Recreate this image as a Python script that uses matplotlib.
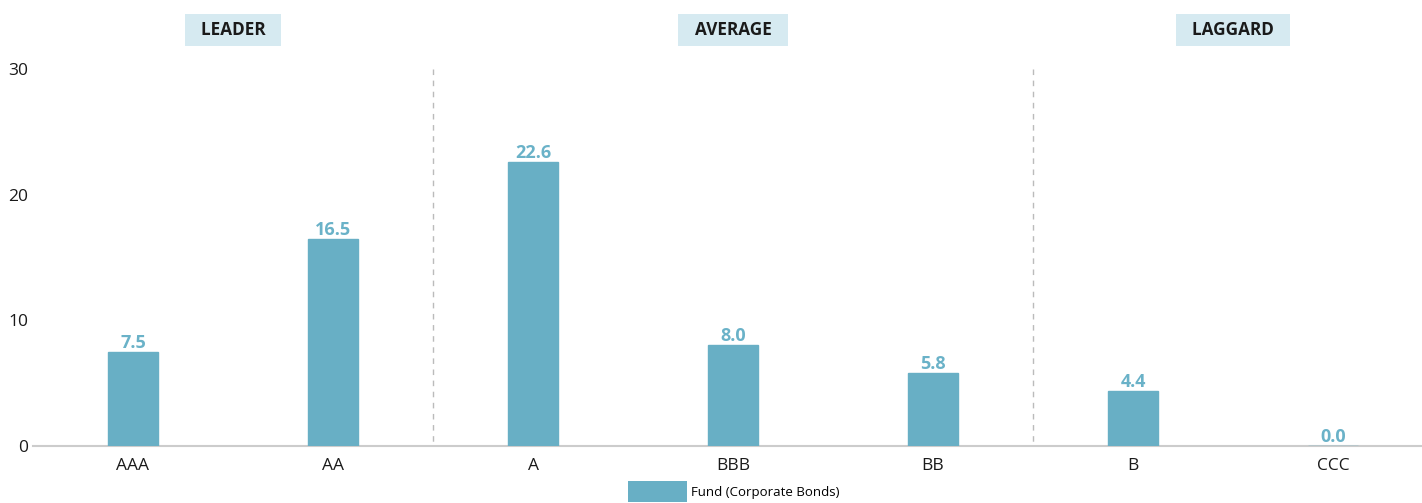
import matplotlib.pyplot as plt
from matplotlib import font_manager as fm
from matplotlib.patches import Patch

# data
ratings = ["AAA", "AA", "A", "BBB", "BB", "B", "CCC"]
fund_values = [7.5, 16.5, 22.6, 8.0, 5.8, 4.4, 0.0]
group_labels = ["LEADER", "AVERAGE", "LAGGARD"]
group_centers = [0.5, 3.0, 5.5]
group_dividers = [1.5, 4.5]
y_ticks = [0, 10, 20, 30]

BAR_COLOR = "#68afc5"
LABEL_COLOR = "#6ab2c8"
BOX_COLOR = "#d6eaf1"

plt.rcParams["font.family"] = ["Open Sans", "DejaVu Sans"]


def pick_bold():
    # the Open Sans bold with normal width, if there is one
    for f in fm.fontManager.ttflist:
        if f.name == "Open Sans" and f.weight in (600, 700, "bold", "semibold") \
                and str(f.stretch) in ("normal", "500") and f.style == "normal":
            return fm.FontProperties(fname=f.fname)
    return fm.FontProperties(family="Noto Sans", weight="bold")


bold = pick_bold()

fig = plt.figure(figsize=(14.22, 5.03), dpi=100)
ax = fig.add_axes([33 / 1422, 57 / 503, 1 - 33 / 1422, 377 / 503])

x = list(range(len(ratings)))
ax.bar(x, fund_values, width=0.25, color=BAR_COLOR, edgecolor=BAR_COLOR,
       linewidth=1, zorder=3)

for xi, v in zip(x, fund_values):
    ax.text(xi, v + 0.32, f"{v:.1f}", ha="center", va="baseline",
            fontproperties=bold, fontsize=13, color=LABEL_COLOR)

# dashed group dividers, drawn top-down so the dashes start at the top
for d in group_dividers:
    ax.plot([d, d], [30, 0], color="#bbbbbb", linestyle=(0, (4, 4)),
            linewidth=1, zorder=1)

for cx, name in zip(group_centers, group_labels):
    ax.text(cx, 33.1, "  " + name + "  ", ha="center", va="center",
            fontproperties=bold, fontsize=12.3, color="#1a1a1a",
            bbox=dict(boxstyle="square,pad=0.42", facecolor=BOX_COLOR,
                      edgecolor="none"),
            clip_on=False)

ax.set_xlim(-0.5, 6.445)
ax.set_ylim(0, 30)
ax.set_yticks(y_ticks)
ax.set_xticks(x)
ax.set_xticklabels(ratings)
ax.tick_params(axis="both", length=0, labelsize=12.5, colors="#1a1a1a")
ax.tick_params(axis="y", pad=3.5)
ax.tick_params(axis="x", pad=9)

for side in ["top", "right", "left"]:
    ax.spines[side].set_visible(False)
ax.spines["bottom"].set_color("#cccccc")
ax.spines["bottom"].set_linewidth(1.5)

handle = Patch(facecolor=BAR_COLOR, edgecolor="none", label="Fund (Corporate Bonds)")
fig.legend(handles=[handle], loc="lower center", bbox_to_anchor=(733.5 / 1422, -0.012),
           frameon=False, fontsize=9.5, handlelength=4.45, handleheight=2.1,
           handletextpad=0.3, borderpad=0)

fig.savefig("out.png", dpi=100)
